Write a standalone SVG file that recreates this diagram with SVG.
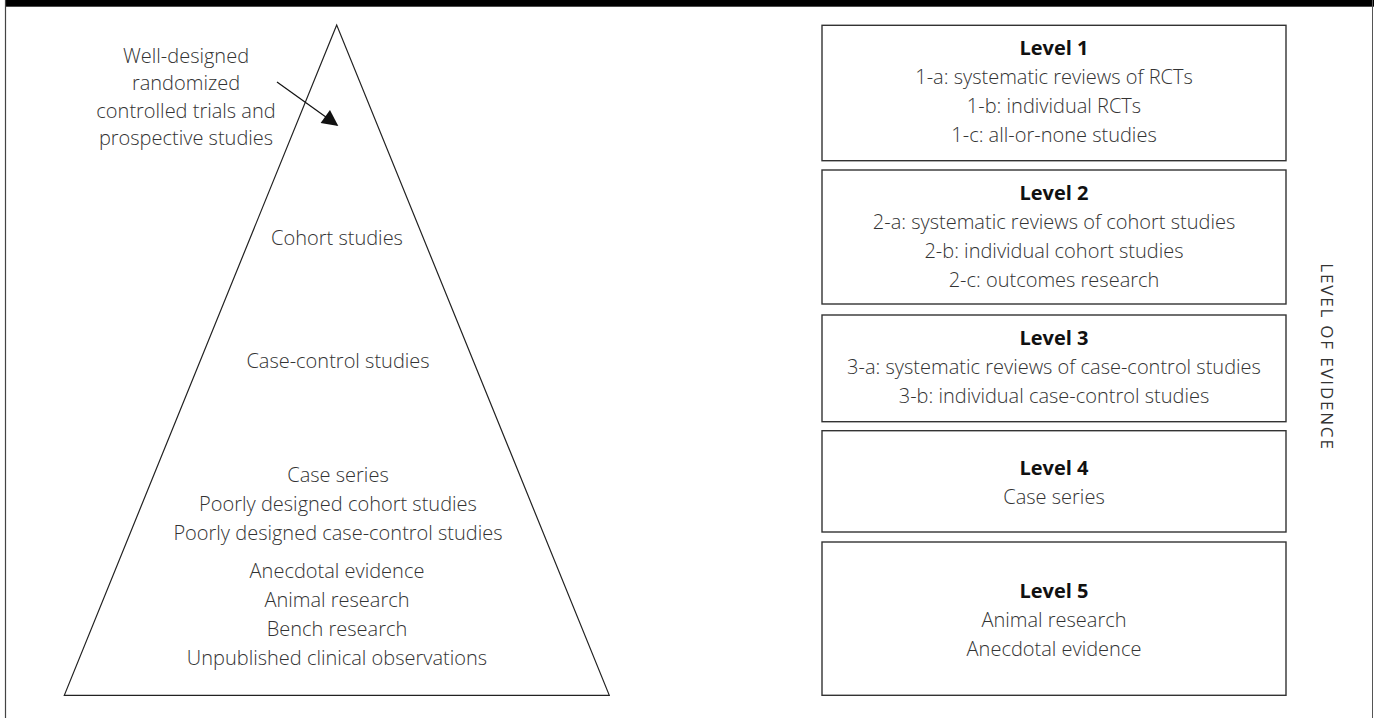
<svg xmlns="http://www.w3.org/2000/svg" width="1374" height="718" viewBox="0 0 1374 718">
<style>
.t{font-family:"Open Sans","Liberation Sans",sans-serif;font-size:20px;font-weight:300;fill:#333;text-anchor:middle;dominant-baseline:central}
.b{font-weight:bold;fill:#111}
.box{fill:#fff;stroke:#333;stroke-width:1.4}
.tri{fill:#fff;stroke:#222;stroke-width:1.2}
</style>
<defs>
<marker id="ah" viewBox="0 0 10 10" refX="9" refY="5" markerWidth="17" markerHeight="16" markerUnits="userSpaceOnUse" orient="auto">
<path d="M0,0 L10,5 L0,10 z" fill="#111"/>
</marker>
</defs>
<rect x="0" y="0" width="1374" height="718" fill="#fff"/>
<rect x="5.5" y="0" width="1368.5" height="6.7" fill="#000"/>
<line x1="5.5" y1="0" x2="5.5" y2="718" stroke="#444" stroke-width="1.2"/>
<line x1="1372.5" y1="0" x2="1372.5" y2="718" stroke="#555" stroke-width="1"/>

<g id="pyramid">
<polygon class="tri" points="336.7,25 64.3,695.3 609.3,695.3"/>
<text class="t" x="337" y="237">Cohort studies</text>
<text class="t" x="338" y="360">Case-control studies</text>
<text class="t" x="338" y="474">Case series</text>
<text class="t" x="338" y="503">Poorly designed cohort studies</text>
<text class="t" x="338" y="532">Poorly designed case-control studies</text>
<text class="t" x="337" y="570">Anecdotal evidence</text>
<text class="t" x="337" y="599">Animal research</text>
<text class="t" x="337" y="628">Bench research</text>
<text class="t" x="337" y="657">Unpublished clinical observations</text>
</g>

<g id="rct-label">
<text class="t" x="186" y="55">Well-designed</text>
<text class="t" x="186" y="82">randomized</text>
<text class="t" x="186" y="110">controlled trials and</text>
<text class="t" x="186" y="137">prospective studies</text>
</g>

<g id="connectors">
<line x1="277" y1="82" x2="337" y2="125" stroke="#111" stroke-width="1.2" marker-end="url(#ah)"/>
</g>

<g id="level1">
<rect class="box" x="822" y="25.3" width="464" height="135.4"/>
<text class="t b" x="1054" y="47">Level 1</text>
<text class="t" x="1054" y="76">1-a: systematic reviews of RCTs</text>
<text class="t" x="1054" y="105">1-b: individual RCTs</text>
<text class="t" x="1054" y="134">1-c: all-or-none studies</text>
</g>
<g id="level2">
<rect class="box" x="822" y="170" width="464" height="134"/>
<text class="t b" x="1054" y="192">Level 2</text>
<text class="t" x="1054" y="221">2-a: systematic reviews of cohort studies</text>
<text class="t" x="1054" y="250">2-b: individual cohort studies</text>
<text class="t" x="1054" y="279">2-c: outcomes research</text>
</g>
<g id="level3">
<rect class="box" x="822" y="315" width="464" height="106.7"/>
<text class="t b" x="1054" y="337">Level 3</text>
<text class="t" x="1054" y="366">3-a: systematic reviews of case-control studies</text>
<text class="t" x="1054" y="395">3-b: individual case-control studies</text>
</g>
<g id="level4">
<rect class="box" x="822" y="430.7" width="464" height="101.3"/>
<text class="t b" x="1054" y="467">Level 4</text>
<text class="t" x="1054" y="496">Case series</text>
</g>
<g id="level5">
<rect class="box" x="822" y="542" width="464" height="153.3"/>
<text class="t b" x="1054" y="590">Level 5</text>
<text class="t" x="1054" y="619">Animal research</text>
<text class="t" x="1054" y="648">Anecdotal evidence</text>
</g>

<g id="axis-label">
<text class="t" x="1327" y="357" transform="rotate(90 1327 357)" style="font-size:17px;font-weight:400;letter-spacing:1.8px">LEVEL OF EVIDENCE</text>
</g>
</svg>
